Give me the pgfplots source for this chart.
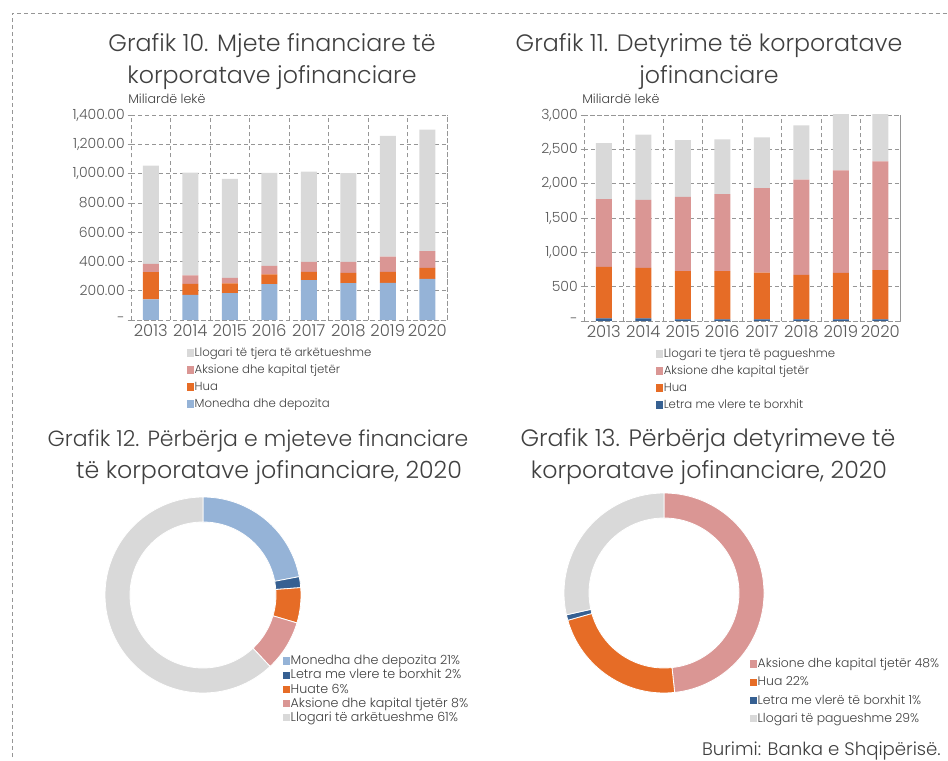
\documentclass[border=0pt]{standalone}
\usepackage{pgfplots}
\pgfplotsset{compat=1.18}
\usepackage{fontspec}
\setmainfont{Poppins}[UprightFont={* Light}]
\definecolor{cgrey}{RGB}{217,217,217}
\definecolor{cpink}{RGB}{218,150,148}
\definecolor{corange}{RGB}{230,108,38}
\definecolor{cblue}{RGB}{149,179,215}
\definecolor{cdblue}{RGB}{54,96,146}
\definecolor{ctext}{RGB}{64,64,64}
\definecolor{ctick}{RGB}{89,89,89}
\definecolor{cgridc}{RGB}{150,150,150}
\pgfplotsset{
  sqlegend/.style={legend image code/.code={\fill[##1, draw=none] (0pt,-2.8pt) rectangle (5pt,2.8pt);}},
  barstyle/.style={
    ybar stacked, bar width=12pt, scale only axis, width=237pt,
    xmin=-0.5, xmax=7.5, xtick={0,...,7},
    xticklabels={2013,2014,2015,2016,2017,2018,2019,2020},
    minor xtick={-0.5,0.5,...,7.5}, xminorgrids, ymajorgrids,
    grid style={cgridc, dash pattern=on 3pt off 2.3pt, line width=0.5pt},
    minor grid style={cgridc, dash pattern=on 3pt off 2.3pt, line width=0.5pt},
    axis line style={cgridc, dash pattern=on 3pt off 2.3pt, line width=0.5pt},
    tick pos=left, tick align=center,
    xtick style={draw=none}, minor x tick style={cgridc, line width=0.5pt},
    ytick style={cgridc, line width=0.5pt},
    major tick length=5pt, minor tick length=5pt,
    /pgf/number format/assume math mode=true,
    x tick label style={font=\fontsize{12.3}{14}\selectfont, text=ctick, inner sep=1pt},
    y tick label style={font=\fontsize{10.5}{11}\selectfont, text=ctick, inner sep=2pt},
    every axis plot/.append style={draw=none},
    sqlegend, reverse legend,
    legend style={draw=none, fill=none, anchor=north west, legend cell align=left,
      font=\fontsize{8.8}{10}\selectfont, text=ctext, inner sep=0pt, row sep=2.4pt,
      nodes={inner sep=0.6pt, text height=7.3pt, text depth=1.8pt}},
  },
  piestyle/.style={
    scale only axis, hide axis,
    xmin=-1, xmax=1, ymin=-1, ymax=1, sqlegend,
    legend style={draw=none, fill=none, anchor=north west, legend cell align=left,
      font=\fontsize{9.5}{11}\selectfont, text=ctext, inner sep=0pt,
      nodes={inner sep=0.6pt, text height=7.3pt, text depth=1.8pt}},
  },
}
% ring segment: color, start angle, end angle, outer radius, inner radius
\newcommand{\ringseg}[5]{%
  \fill[#1, draw=white, line width=0.6pt] (axis cs:0,0) ++(#2:#4)
    arc[start angle=#2, end angle=#3, radius=#4] -- ++(#3:#5-#4)
    arc[start angle=#3, end angle=#2, radius=#5] -- cycle;}
\begin{document}
\begin{tikzpicture}[x=0.75pt, y=0.75pt]
\useasboundingbox (0,0) rectangle (948,760);
% frame
\draw[cgridc, dash pattern=on 3pt off 2.3pt, line width=0.6pt] (12,760-757) -- (12,760-13) -- (948,760-13);
% titles
\tikzset{ttl/.style={anchor=base, text=ctext, font=\fontsize{17.8}{21}\selectfont, inner sep=0pt}}
\node[ttl] at (272,760-52) {Grafik 10. Mjete financiare të};
\node[ttl] at (272,760-84) {korporatave jofinanciare};
\node[ttl] at (709,760-52) {Grafik 11. Detyrime të korporatave};
\node[ttl] at (709,760-84) {jofinanciare};
\node[ttl, font=\fontsize{16.5}{21}\selectfont] at (258,760-447) {Grafik 12. Përbërja e mjeteve financiare};
\node[ttl] at (269,760-479) {të korporatave jofinanciare, 2020};
\node[ttl] at (708,760-447) {Grafik 13. Përbërja detyrimeve të};
\node[ttl] at (709,760-479) {korporatave jofinanciare, 2020};
\tikzset{unit/.style={anchor=base west, text=ctext, font=\fontsize{9.5}{11}\selectfont, inner sep=0pt}}
\node[unit] at (128,760-104) {Miliardë lekë};
\node[unit] at (582,760-104) {Miliardë lekë};
\node[anchor=base east, text=ctext, font=\fontsize{13.6}{16}\selectfont, inner sep=0pt] at (941,760-755) {Burimi: Banka e Shqipërisë.};

% Grafik 10
\begin{axis}[barstyle, at={(216.75pt,406.875pt)}, anchor=center, height=153.75pt,
  ymin=0, ymax=1400, ytick={0,200,...,1400},
  yticklabels={-,200.00,400.00,600.00,800.00,{1,000.00},{1,200.00},{1,400.00}},
  legend style={at={(0.177,-0.127)}}]
\addplot[fill=cblue] coordinates {(0,141) (1,172) (2,184) (3,245) (4,272) (5,252) (6,254) (7,281)};
\addlegendentry{Monedha dhe depozita}
\addplot[fill=corange] coordinates {(0,186) (1,75) (2,66) (3,66) (4,57) (5,70) (6,75) (7,75)};
\addlegendentry{Hua}
\addplot[fill=cpink] coordinates {(0,56) (1,57) (2,38) (3,59) (4,68) (5,75) (6,104) (7,114)};
\addlegendentry{Aksione dhe kapital tjetër}
\addplot[fill=cgrey] coordinates {(0,672) (1,703) (2,676) (3,635) (4,617) (5,606) (6,824) (7,830)};
\addlegendentry{Llogari të tjera të arkëtueshme}
\end{axis}

% Grafik 11
\begin{axis}[barstyle, at={(556.5pt,406.5pt)}, anchor=center, height=154.5pt,
  ymin=0, ymax=3000, ytick={0,500,...,3000},
  yticklabels={-,500,{1,000},{1,500},{2,000},{2,500},{3,000}},
  legend style={at={(0.228,-0.126)}}]
\addplot[fill=cdblue] coordinates {(0,40) (1,40) (2,25) (3,25) (4,25) (5,25) (6,22) (7,25)};
\addlegendentry{Letra me vlere te borxhit}
\addplot[fill=corange] coordinates {(0,749) (1,734) (2,701) (3,701) (4,681) (5,647) (6,679) (7,715)};
\addlegendentry{Hua}
\addplot[fill=cpink] coordinates {(0,984) (1,989) (2,1081) (3,1120) (4,1228) (5,1388) (6,1491) (7,1583)};
\addlegendentry{Aksione dhe kapital tjetër}
\addplot[fill=cgrey] coordinates {(0,818) (1,950) (2,828) (3,799) (4,740) (5,789) (6,950) (7,970)};
\addlegendentry{Llogari te tjera të pagueshme}
\end{axis}

% Grafik 12 (shares in %, clockwise from top)
\begin{axis}[piestyle, at={(152.25pt,123.75pt)}, anchor=center, width=147pt, height=147pt,
  legend style={at={(0.908,0.199)}, row sep=0.3pt}]
\addlegendimage{fill=cblue}\addlegendentry{Monedha dhe depozita 21\%}
\addlegendimage{fill=cdblue}\addlegendentry{Letra me vlere te borxhit 2\%}
\addlegendimage{fill=corange}\addlegendentry{Huate 6\%}
\addlegendimage{fill=cpink}\addlegendentry{Aksione dhe kapital tjetër 8\%}
\addlegendimage{fill=cgrey}\addlegendentry{Llogari të arkëtueshme 61\%}
\ringseg{cblue}{90}{90-3.6*22}{73.5pt}{54.75pt}
\ringseg{cdblue}{90-3.6*22}{90-3.6*23.8}{73.5pt}{54.75pt}
\ringseg{corange}{90-3.6*23.8}{90-3.6*29.6}{73.5pt}{54.75pt}
\ringseg{cpink}{90-3.6*29.6}{90-3.6*38}{73.5pt}{54.75pt}
\ringseg{cgrey}{90-3.6*38}{90-3.6*100}{73.5pt}{54.75pt}
\end{axis}

% Grafik 13
\begin{axis}[piestyle, at={(498pt,125.25pt)}, anchor=center, width=150pt, height=150pt,
  legend style={at={(0.93,0.18)}, row sep=3.3pt, font=\fontsize{9.3}{11}\selectfont}]
\addlegendimage{fill=cpink}\addlegendentry{Aksione dhe kapital tjetër 48\%}
\addlegendimage{fill=corange}\addlegendentry{Hua 22\%}
\addlegendimage{fill=cdblue}\addlegendentry{Letra me vlerë të borxhit 1\%}
\addlegendimage{fill=cgrey}\addlegendentry{Llogari të pagueshme 29\%}
\ringseg{cpink}{90}{90-3.6*48.3}{75pt}{56.25pt}
\ringseg{corange}{90-3.6*48.3}{90-3.6*70.6}{75pt}{56.25pt}
\ringseg{cdblue}{90-3.6*70.6}{90-3.6*71.5}{75pt}{56.25pt}
\ringseg{cgrey}{90-3.6*71.5}{90-3.6*100}{75pt}{56.25pt}
\end{axis}
\end{tikzpicture}
\end{document}
